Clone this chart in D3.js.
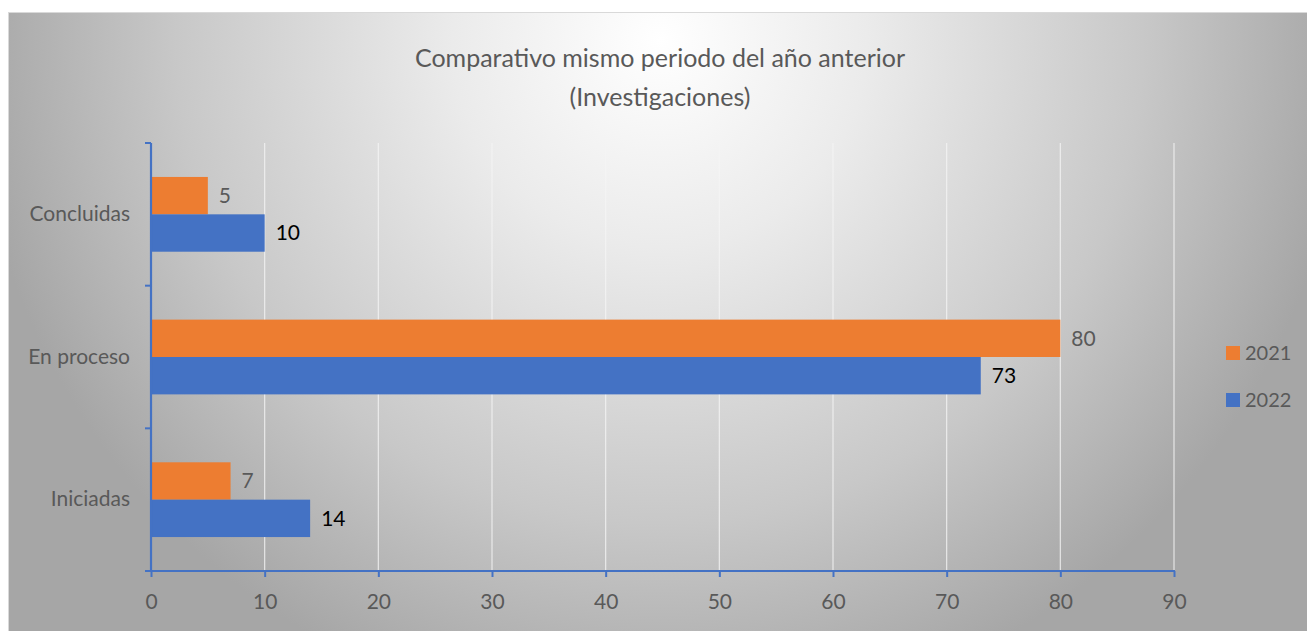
<!DOCTYPE html>
<html><head><meta charset="utf-8">
<script src="https://cdn.jsdelivr.net/npm/d3@7"></script>
<style>body{margin:0;background:#fff;} svg{display:block;font-family:Lato,"Open Sans",sans-serif;}</style>
</head><body>
<svg id="c" width="1307" height="631"></svg>
<script>
const categories = ["Concluidas", "En proceso", "Iniciadas"];
const seriesNames = ["2021", "2022"];
const values2021 = [5, 80, 7];
const values2022 = [10, 73, 14];
const xTicks = [0, 10, 20, 30, 40, 50, 60, 70, 80, 90];
const titleLines = ["Comparativo mismo periodo del año anterior", "(Investigaciones)"];
const colors = {"2021": "#ED7D31", "2022": "#4472C4"};
const labelColors = {"2021": "#595959", "2022": "#000000"};

const svg = d3.select("#c");
const defs = svg.append("defs");
const grad = defs.append("radialGradient").attr("id","bg")
  .attr("gradientUnits","userSpaceOnUse").attr("cx",660).attr("cy",40).attr("r",690)
  .attr("fx",660).attr("fy",40);
grad.append("stop").attr("offset","0%").attr("stop-color","#ffffff");
grad.append("stop").attr("offset","30%").attr("stop-color","#ebebeb");
grad.append("stop").attr("offset","70%").attr("stop-color","#c8c8c8");
grad.append("stop").attr("offset","100%").attr("stop-color","#a6a6a6");

svg.append("rect").attr("x",8.5).attr("y",12.5).attr("width",1310).attr("height",630)
  .attr("fill","url(#bg)").attr("stroke","#d9d9d9").attr("stroke-width",1);

const m = {left:151, right:1174, top:143, bottom:571};
const x = d3.scaleLinear().domain([0,90]).range([m.left, m.right]);
const y = d3.scaleBand().domain(categories).range([m.top, m.bottom]).paddingInner(0.476).paddingOuter(0.238);
const ys = d3.scaleBand().domain(seriesNames).range([0, y.bandwidth()]);

// gridlines
svg.append("g").selectAll("line").data(xTicks.filter(d=>d>0)).join("line")
  .attr("x1",d=>x(d)).attr("x2",d=>x(d)).attr("y1",m.top).attr("y2",m.bottom)
  .attr("stroke","#f4f4f4").attr("stroke-opacity",0.8).attr("stroke-width",1.2);

const data = categories.map((c,i)=>({cat:c, vals:[{s:"2021",v:values2021[i]},{s:"2022",v:values2022[i]}]}));
const g = svg.append("g");
data.forEach(d=>{
  d.vals.forEach(e=>{
    g.append("rect").attr("x",x(0)).attr("y",y(d.cat)+ys(e.s)).attr("width",x(e.v)-x(0))
      .attr("height",ys.bandwidth()).attr("fill",colors[e.s]);
    g.append("text").attr("x",x(e.v)+11).attr("y",y(d.cat)+ys(e.s)+ys.bandwidth()/2)
      .attr("dy","0.35em").attr("font-size",21).attr("fill",labelColors[e.s]).text(e.v);
  });
});

// x axis
const xAxis = d3.axisBottom(x).tickValues(xTicks).tickSize(6).tickPadding(17);
const xg = svg.append("g").attr("transform",`translate(0,${m.bottom})`).call(xAxis);
xg.select(".domain").remove();
xg.append("line").attr("x1",m.left-6).attr("x2",m.right+1).attr("stroke","#4472C4").attr("stroke-width",2.2);
xg.selectAll(".tick line").attr("stroke","#4472C4").attr("stroke-width",2);
xg.selectAll(".tick text").attr("fill","#595959").attr("font-size",21).attr("font-family","Lato,'Open Sans',sans-serif");

// y axis
const yAxis = d3.axisLeft(y).tickSize(0).tickPadding(21);
const yg = svg.append("g").attr("transform",`translate(${m.left},0)`).call(yAxis);
yg.select(".domain").remove();
yg.append("line").attr("y1",m.top).attr("y2",m.bottom).attr("stroke","#4472C4").attr("stroke-width",2.2);
const bounds = [m.top].concat(categories.map(c=>y(c)+y.bandwidth()+y.step()*y.paddingInner()/2).slice(0,2)).concat([m.bottom]);
yg.selectAll(".bt").data(bounds).join("line").attr("class","bt")
  .attr("x1",-6).attr("x2",0).attr("y1",d=>d).attr("y2",d=>d).attr("stroke","#4472C4").attr("stroke-width",2);
yg.selectAll(".tick text").attr("fill","#595959").attr("font-size",21).attr("font-family","Lato,'Open Sans',sans-serif");

// title
svg.append("g").selectAll("text").data(titleLines).join("text")
  .attr("x",660).attr("y",(d,i)=>58+i*39).attr("dy","0.35em").attr("text-anchor","middle")
  .attr("font-size",25).attr("fill","#595959").text(d=>d);

// legend
const lg = svg.append("g").selectAll("g").data(seriesNames).join("g")
  .attr("transform",(d,i)=>`translate(1226,${353+i*47})`);
lg.append("rect").attr("x",0).attr("y",-7).attr("width",14).attr("height",14).attr("fill",d=>colors[d]);
lg.append("text").attr("x",19).attr("dy","0.35em").attr("font-size",20).attr("fill","#595959").text(d=>d);
</script>
</body></html>
